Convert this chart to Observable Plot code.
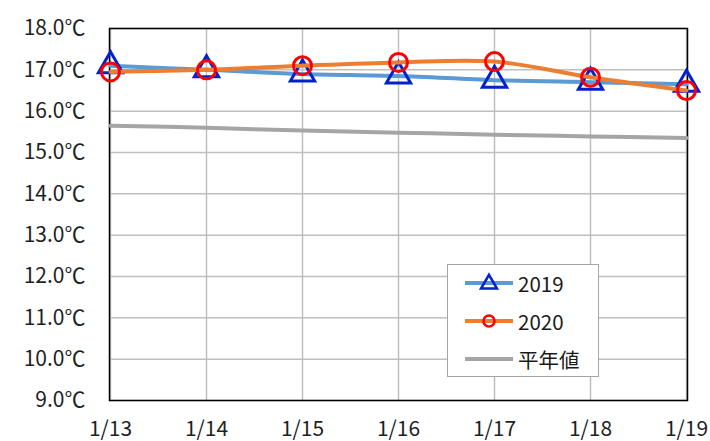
<!DOCTYPE html>
<html>
<head>
<meta charset="utf-8">
<script src="https://cdn.jsdelivr.net/npm/d3@7"></script>
<script src="https://cdn.jsdelivr.net/npm/@observablehq/plot@0.6"></script>
<style>
  body { margin: 0; background: #fff; }
  #wrap { position: relative; width: 710px; height: 441px; font-family: "Noto Sans CJK JP", "Noto Sans", sans-serif; }
  #legend { position: absolute; left: 447px; top: 264px; width: 152px; height: 113px; box-sizing: border-box;
            border: 1.5px solid #a6a6a6; background: #fff; }
  #legend .row { position: absolute; left: 0; height: 30px; display: flex; align-items: center; }
  #legend .lbl { font-size: 20.5px; color: #1a1a1a; margin-left: 3px; line-height: 1; }
</style>
</head>
<body>
<div id="wrap"></div>
<script>
const dates = ["1/13", "1/14", "1/15", "1/16", "1/17", "1/18", "1/19"];
const temp2019 = [17.1, 17.0, 16.9, 16.85, 16.75, 16.7, 16.65];
const temp2020 = [16.95, 17.0, 17.1, 17.18, 17.2, 16.82, 16.5];
const tempNormal = [15.65, 15.6, 15.53, 15.48, 15.43, 15.39, 15.35];
const yTicks = [9, 10, 11, 12, 13, 14, 15, 16, 17, 18];
const seriesNames = ["2019", "2020", "平年値"];

const rows = (vals) => dates.map((d, i) => ({date: d, value: vals[i]}));
const d2019 = rows(temp2019), d2020 = rows(temp2020), dNormal = rows(tempNormal);

const blue = "#5b9bd5", orange = "#ed7d31", gray = "#a5a5a5";
const triColor = "#0022cc", circColor = "#ff0000";

const chart = Plot.plot({
  width: 710, height: 441,
  marginLeft: 109, marginTop: 28, marginRight: 23, marginBottom: 41,
  style: {fontSize: "21px", fontFamily: '"Noto Sans CJK JP", "Noto Sans", sans-serif', color: "#1f1f1f", background: "transparent"},
  x: {type: "point", domain: dates, padding: 0},
  y: {domain: [9, 18]},
  marks: [
    Plot.gridY(yTicks, {stroke: "#bfbfbf", strokeOpacity: 1, strokeWidth: 1.5}),
    Plot.gridX(dates, {stroke: "#bfbfbf", strokeOpacity: 1, strokeWidth: 1.5}),
    Plot.frame({stroke: "#000", strokeWidth: 1.5}),
    Plot.axisY(yTicks, {tickSize: 0, tickPadding: 24, tickFormat: d => d.toFixed(1) + "℃", label: null}),
    Plot.axisX(dates, {tickSize: 0, tickPadding: 21, label: null}),
    Plot.line(dNormal, {x: "date", y: "value", stroke: gray, strokeWidth: 4, curve: "catmull-rom"}),
    Plot.line(d2019, {x: "date", y: "value", stroke: blue, strokeWidth: 4, curve: "catmull-rom"}),
    Plot.dot(d2019, {x: "date", y: "value", symbol: "triangle", r: 9, stroke: triColor, strokeWidth: 3, fill: "none"}),
    Plot.line(d2020, {x: "date", y: "value", stroke: orange, strokeWidth: 4, curve: "catmull-rom"}),
    Plot.dot(d2020, {x: "date", y: "value", symbol: "circle", r: 9, stroke: circColor, strokeWidth: 3, fill: "none"})
  ]
});

const wrap = document.getElementById("wrap");
wrap.appendChild(chart);

// Legend
const legend = document.createElement("div");
legend.id = "legend";
const legendItems = [
  {name: seriesNames[0], line: blue, marker: "triangle", mcolor: triColor},
  {name: seriesNames[1], line: orange, marker: "circle", mcolor: circColor},
  {name: seriesNames[2], line: gray, marker: null}
];
const rowTops = [3, 41, 79];
legendItems.forEach((it, i) => {
  const row = document.createElement("div");
  row.className = "row";
  row.style.top = rowTops[i] + "px";
  const svg = d3.create("svg").attr("width", 67).attr("height", 30);
  svg.append("line").attr("x1", 17).attr("x2", 65).attr("y1", 15).attr("y2", 15)
     .attr("stroke", it.line).attr("stroke-width", 4);
  if (it.marker === "triangle") {
    svg.append("path").attr("d", d3.symbol(d3.symbolTriangle, 110)()).attr("transform", "translate(41,16)")
       .attr("fill", "none").attr("stroke", it.mcolor).attr("stroke-width", 2.5);
  } else if (it.marker === "circle") {
    svg.append("circle").attr("cx", 41).attr("cy", 15).attr("r", 5.5)
       .attr("fill", "none").attr("stroke", it.mcolor).attr("stroke-width", 2.5);
  }
  row.appendChild(svg.node());
  const lbl = document.createElement("span");
  lbl.className = "lbl";
  lbl.textContent = it.name;
  row.appendChild(lbl);
  legend.appendChild(row);
});
wrap.appendChild(legend);
</script>
</body>
</html>
